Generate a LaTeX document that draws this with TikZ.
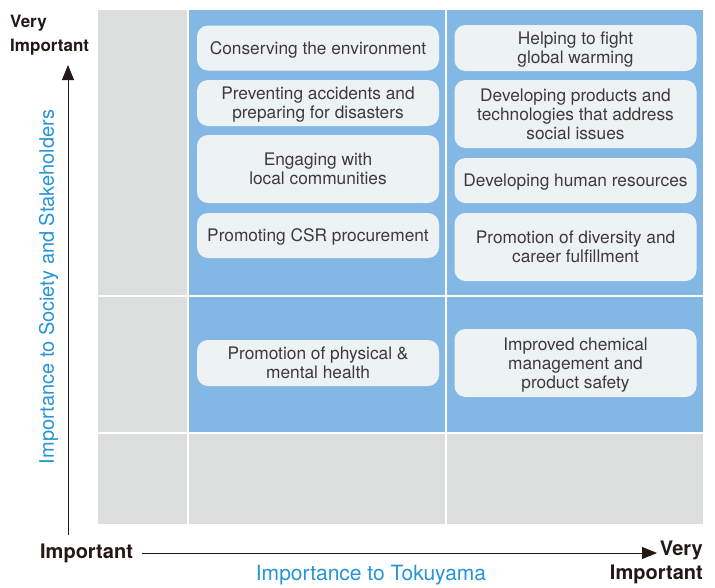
\documentclass[tikz,border=0pt]{standalone}
\usepackage{fontspec}
\setmainfont{TeX Gyre Heros}
\usetikzlibrary{arrows.meta,positioning}
\definecolor{cellblue}{RGB}{132,184,228}
\definecolor{cellgray}{RGB}{220,221,221}
\definecolor{boxfill}{RGB}{237,242,245}
\definecolor{ink}{RGB}{62,58,57}
\definecolor{axisink}{RGB}{35,24,21}
\definecolor{labelblue}{RGB}{38,148,216}

\begin{document}
\begin{tikzpicture}[x=1pt,y=-1pt,
  issue/.style={fill=boxfill,rounded corners=11pt,minimum width=242pt,
                align=center,text=ink,inner sep=0pt,text depth=0pt,
                font=\fontsize{17.3}{19}\selectfont},
  short/.style={issue,minimum height=45pt},
  mid/.style={issue,minimum height=46pt},
  tall/.style={issue,minimum height=68pt},
  axlab/.style={text=axisink,inner sep=0pt,font=\fontsize{20}{24}\selectfont\bfseries},
  axname/.style={text=labelblue,inner sep=0pt,font=\fontsize{20}{24}\selectfont},
  arr/.style={-{Triangle[length=15pt,width=12pt]},line width=0.9pt,draw=axisink}
]
\useasboundingbox (0,0) rectangle (715,587);

% matrix cells
\fill[cellgray] (98,10) rectangle (703,524);
\fill[cellblue] (188,10) rectangle (703,433);
\draw[white,line width=2pt] (188,10) -- (188,524) (446,10) -- (446,524)
  (98,296) -- (703,296) (98,433) -- (703,433);

% issues, left column
\node[short] (env)  at (318,48)    {Conserving the environment};
\node[mid]   (acc)  at (318,103)   {Preventing accidents and\\preparing for disasters};
\node[tall]  (com)  at (318,169)   {Engaging with\\local communities};
\node[short] (csr)  at (318,235.5) {Promoting CSR procurement};
\node[mid]   (hlth) at (318,363)   {Promotion of physical \&\\mental health};

% issues, right column
\node[mid]   (warm) at (575.5,48)    {Helping to fight\\global warming};
\node[tall]  (tech) at (575.5,114)   {Developing products and\\technologies that address\\social issues};
\node[short] (hr)   at (575.5,180.5) {Developing human resources};
\node[tall]  (div)  at (575.5,247)   {Promotion of diversity and\\career fulfillment};
\node[tall]  (chem) at (575.5,363)   {Improved chemical\\management and\\product safety};

% axes
\node[axlab,align=left,anchor=north west,font=\fontsize{17}{24}\selectfont\bfseries]
  (ytop) at (10,15) {Very\\Important};
\coordinate (yfoot) at (68,535);
\coordinate (ytip) at (68,65);
\draw[arr] (yfoot) -- (ytip);
\node[axname,rotate=90] (yname) at (48.5,287) {Importance to Society and Stakeholders};

\node[axlab] (xlow) at (86.5,553) {Important};
\node[axlab,align=right,anchor=north east] (xhigh) at (703,541) {Very\\Important};
\coordinate (xtip) at (657,553);
\draw[arr] ([xshift=9pt]xlow.east) -- (xtip);
\node[axname,font=\fontsize{21}{24}\selectfont] (xname) at (371,575) {Importance to Tokuyama};
\end{tikzpicture}
\end{document}
